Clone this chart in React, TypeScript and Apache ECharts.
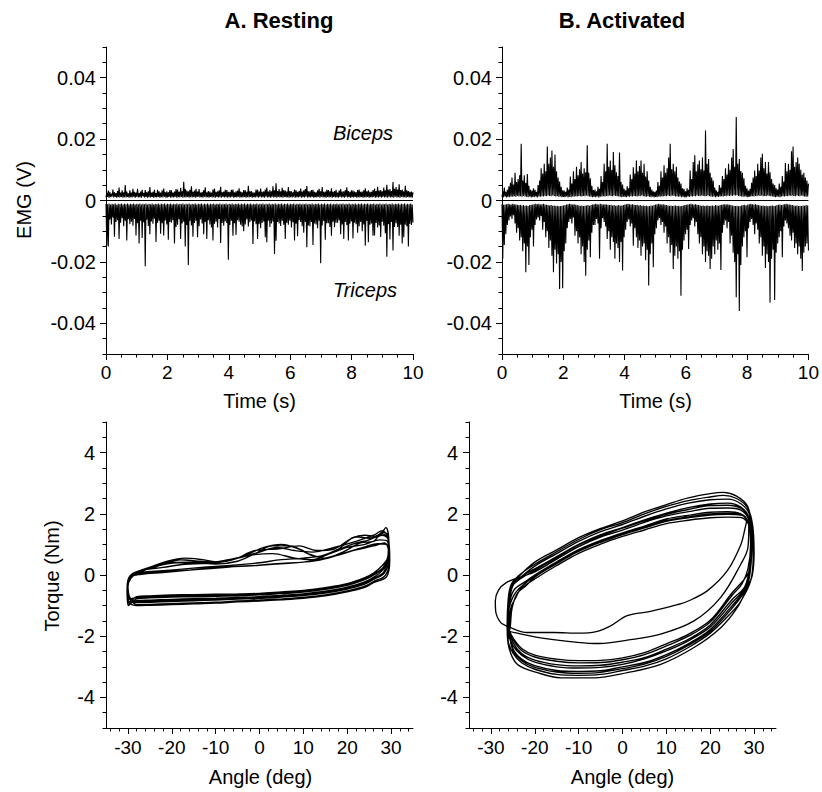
import React, { useEffect, useRef } from "react";
import * as echarts from "echarts";

const FONT = "'Liberation Sans', Arial, Helvetica, sans-serif";

// ---- EMG traces (values in units of 0.1 mV, sampled uniformly over 0–10 s) ----
const restingBiceps = [
  10,25,12,32,9,28,11,22,13,36,10,27,12,24,9,31,11,42,10,26,12,33,9,27,11,50,10,29,12,23,9,33,11,26,10,38,12,28,9,26,
  12,38,10,24,11,29,9,35,13,25,10,34,12,27,9,30,11,44,10,26,12,28,9,35,11,24,10,35,12,30,9,26,11,33,10,39,12,27,9,30,
  10,27,12,34,9,33,11,26,10,29,12,37,9,36,11,28,10,41,12,30,9,61,11,38,10,32,12,30,9,35,11,46,10,28,12,32,9,38,11,29,
  12,37,10,26,11,28,9,34,12,43,10,27,11,31,9,29,12,26,10,36,11,39,9,28,12,30,10,33,11,45,9,27,12,29,10,35,11,34,9,28,
  11,28,10,35,12,36,9,27,11,30,10,32,12,40,9,29,11,27,10,34,12,33,9,28,11,48,10,30,12,31,9,27,11,26,10,36,12,35,9,29,
  12,39,10,28,11,30,9,36,12,42,10,29,11,34,9,30,12,46,10,33,11,56,9,31,12,37,10,30,11,41,9,34,12,32,10,29,11,44,9,31,
  11,30,10,27,12,36,9,33,11,28,10,31,12,39,9,29,11,33,10,37,12,47,9,30,11,30,10,34,12,35,9,28,11,27,10,33,12,38,9,30,
  12,44,10,28,11,29,9,35,12,34,10,30,11,40,9,28,12,31,10,35,11,26,9,32,12,37,10,29,11,30,9,34,12,43,10,31,11,28,9,33,
  11,32,10,29,12,27,9,34,11,36,10,28,12,29,9,33,11,40,10,30,12,33,9,28,11,28,10,34,12,39,9,31,11,45,10,32,12,34,9,30,
  12,42,10,33,11,51,9,35,12,37,10,31,11,60,9,38,12,44,10,36,11,53,9,34,12,36,10,30,11,48,9,33,12,31,10,28,11,29,9,27,
];
const restingTriceps = [
  -11,-147,-12,-150,-10,-62,-13,-78,-11,-55,-12,-118,-10,-70,-14,-64,-11,-125,-12,-72,-10,-58,-13,-84,-11,-66,-12,-130,-10,-61,-13,-77,-11,-69,-12,-82,-10,-60,-13,-114,
  -11,-74,-12,-140,-10,-66,-13,-122,-11,-71,-12,-214,-10,-63,-13,-83,-11,-110,-12,-68,-10,-76,-13,-59,-11,-135,-12,-72,-10,-66,-13,-108,-11,-74,-12,-114,-10,-65,-13,-78,
  -11,-128,-12,-70,-10,-72,-13,-64,-11,-140,-12,-86,-10,-79,-13,-61,-11,-125,-12,-75,-10,-69,-13,-150,-11,-80,-12,-210,-10,-67,-13,-81,-11,-118,-12,-73,-10,-66,-13,-120,
  -11,-84,-12,-62,-10,-75,-13,-110,-11,-70,-12,-125,-10,-64,-13,-78,-11,-88,-12,-130,-10,-76,-13,-69,-11,-88,-12,-60,-10,-138,-13,-73,-11,-82,-12,-68,-10,-73,-13,-193,
  -11,-80,-12,-66,-10,-115,-13,-74,-11,-112,-12,-64,-10,-69,-13,-79,-11,-85,-12,-100,-10,-78,-13,-62,-11,-85,-12,-71,-10,-65,-13,-142,-11,-68,-12,-77,-10,-125,-13,-77,
  -11,-90,-12,-73,-10,-68,-13,-120,-11,-136,-12,-66,-10,-86,-13,-75,-11,-68,-12,-174,-10,-131,-13,-70,-11,-75,-12,-83,-10,-67,-13,-79,-11,-125,-12,-72,-10,-79,-13,-66,
  -11,-88,-12,-71,-10,-130,-13,-76,-11,-116,-12,-64,-10,-70,-13,-84,-11,-105,-12,-69,-10,-152,-13,-81,-11,-84,-12,-70,-10,-145,-13,-75,-11,-78,-12,-90,-10,-66,-13,-204,
  -11,-81,-12,-67,-10,-128,-13,-74,-11,-74,-12,-86,-10,-115,-13,-69,-11,-87,-12,-72,-10,-72,-13,-64,-11,-110,-12,-78,-10,-125,-13,-70,-11,-80,-12,-130,-10,-76,-13,-68,
  -11,-124,-12,-72,-10,-77,-13,-105,-11,-84,-12,-70,-10,-100,-13,-78,-11,-147,-12,-66,-10,-136,-13,-79,-11,-75,-12,-115,-10,-114,-13,-73,-11,-88,-12,-81,-10,-119,-13,-69,
  -11,-82,-12,-107,-10,-183,-13,-77,-11,-127,-12,-70,-10,-163,-13,-86,-11,-74,-12,-86,-10,-115,-13,-79,-11,-140,-12,-120,-10,-79,-13,-84,-11,-150,-12,-76,-10,-80,-13,-72,
];
const activatedBiceps = [
  12,30,11,42,13,28,10,35,12,46,11,58,13,75,12,52,14,90,12,60,15,70,13,82,14,185,12,65,15,82,13,58,12,86,11,48,13,35,10,32,
  12,40,11,35,13,28,10,50,13,65,12,105,14,88,13,120,15,95,14,176,16,120,15,140,14,163,16,110,15,150,13,95,14,75,12,62,13,45,11,33,
  12,32,11,28,13,42,10,36,12,78,11,55,13,95,12,70,14,110,13,82,15,102,14,125,13,88,15,105,14,92,16,180,14,90,13,72,12,48,11,34,
  12,36,11,30,13,45,10,38,12,80,13,60,14,120,13,95,15,185,14,110,16,130,15,100,14,158,16,115,15,92,14,80,13,156,12,60,11,52,12,38,
  12,33,11,46,13,40,12,85,14,70,13,108,15,88,14,130,13,95,15,112,14,130,16,90,14,120,13,78,12,95,14,65,12,45,11,36,13,30,10,28,
  12,32,11,60,13,48,12,95,14,75,13,115,15,90,14,105,16,140,15,185,14,102,16,120,15,95,13,110,14,75,12,62,13,55,11,40,12,38,10,30,
  11,40,13,35,12,98,14,70,13,125,15,147,14,95,16,118,15,130,14,102,16,140,15,98,14,228,15,120,16,135,14,90,13,75,12,65,13,42,11,33,
  13,28,12,50,13,42,14,80,13,70,15,105,14,85,16,120,15,100,16,140,15,168,17,110,16,272,17,120,15,135,14,96,13,90,12,72,13,48,12,40,
  11,32,12,38,13,58,14,75,13,98,15,80,14,120,16,98,15,140,16,152,14,105,15,125,14,88,16,125,15,92,14,70,13,55,12,50,11,40,12,36,
  12,55,11,45,13,80,14,62,13,122,15,95,14,120,16,100,15,160,16,176,15,110,14,125,16,140,15,120,14,100,16,85,14,90,13,75,12,65,13,55,
];
const activatedTriceps = [
  -12,-190,-14,-145,-13,-110,-12,-80,-11,-65,-12,-52,-13,-60,-11,-48,-12,-75,-13,-105,-14,-90,-15,-130,-14,-120,-16,-165,-15,-140,-17,-234,-16,-150,-18,-210,-15,-120,-14,-95,
  -13,-150,-12,-80,-11,-62,-12,-55,-11,-65,-13,-50,-12,-95,-11,-70,-13,-120,-14,-100,-15,-155,-16,-130,-15,-180,-17,-234,-16,-160,-18,-205,-17,-175,-19,-288,-18,-200,-17,-286,
  -16,-165,-15,-140,-13,-90,-12,-70,-11,-60,-12,-75,-13,-55,-12,-115,-14,-100,-15,-140,-16,-120,-17,-175,-16,-150,-18,-200,-17,-245,-16,-160,-15,-130,-17,-185,-15,-105,-13,-80,
  -12,-80,-11,-60,-12,-75,-13,-190,-11,-90,-12,-58,-13,-70,-12,-85,-13,-125,-14,-100,-15,-160,-14,-120,-16,-135,-15,-190,-17,-140,-16,-155,-15,-200,-17,-135,-16,-228,-15,-120,
  -13,-95,-12,-70,-11,-62,-12,-85,-13,-75,-12,-147,-14,-90,-15,-120,-14,-155,-16,-130,-15,-180,-17,-150,-16,-140,-18,-195,-17,-160,-19,-277,-18,-175,-16,-140,-17,-217,-15,-110,
  -13,-90,-12,-65,-11,-58,-12,-80,-13,-70,-12,-105,-14,-85,-15,-140,-16,-120,-17,-170,-16,-145,-18,-223,-17,-180,-16,-150,-18,-190,-17,-165,-19,-310,-18,-160,-16,-130,-15,-110,
  -14,-95,-13,-158,-12,-80,-11,-65,-12,-58,-13,-85,-12,-70,-14,-110,-15,-140,-16,-120,-17,-175,-16,-150,-18,-200,-17,-165,-16,-180,-18,-223,-17,-190,-16,-150,-18,-175,-15,-130,
  -16,-160,-17,-140,-15,-226,-14,-105,-13,-80,-12,-65,-13,-90,-12,-70,-14,-140,-15,-115,-16,-170,-17,-200,-18,-315,-17,-175,-19,-360,-18,-210,-16,-150,-15,-120,-14,-100,-16,-185,
  -13,-90,-12,-70,-11,-60,-12,-80,-13,-110,-12,-75,-14,-95,-15,-140,-16,-120,-17,-180,-16,-150,-18,-220,-17,-175,-19,-200,-18,-332,-17,-190,-16,-160,-18,-324,-17,-170,-15,-140,
  -14,-120,-13,-100,-15,-185,-13,-85,-12,-65,-11,-75,-12,-90,-13,-115,-14,-130,-15,-105,-16,-155,-17,-140,-16,-175,-18,-150,-17,-190,-18,-230,-16,-170,-17,-150,-15,-140,-16,-163,
];

// ---- Torque–angle loops: [angle (deg), torque (Nm)] ----
const restingLoop: [number, number][] = [
  [-29.8,-0.82],[-30.1,-0.4],[-29.4,-0.05],[-27,0.12],[-22,0.35],[-18,0.5],[-14,0.45],[-10,0.42],[-5,0.55],[0,0.75],[4,0.9],[8,0.8],[12,0.75],[17,0.9],[22,1.1],[26,1.3],[28,1.45],[29.3,1.2],[29.6,0.6],[28,0.15],[26,-0.075],[24,-0.225],[20,-0.4],[15,-0.53],[10,-0.615],[5,-0.665],[0,-0.71],[-5,-0.735],[-10,-0.76],[-15,-0.775],[-20,-0.795],[-25,-0.82],[-28,-0.84],
  [-29.9,-0.95],[-30.2,-0.45],[-29.5,-0.02],[-27,0.08],[-22,0.14],[-17,0.2],[-12,0.26],[-6,0.32],[0,0.4],[5,0.5],[10,0.55],[15,0.65],[20,0.9],[24,1.0],[27.5,1.15],[29.2,1.1],[29.6,0.5],[28.7,-0.01],[26,-0.215],[24,-0.365],[20,-0.52],[15,-0.65],[10,-0.73],[5,-0.78],[0,-0.82],[-5,-0.85],[-10,-0.89],[-15,-0.91],[-20,-0.935],[-25,-0.96],[-28,-0.97],
  [-29.6,-0.72],[-30,-0.3],[-29.2,0.02],[-26,0.2],[-21,0.45],[-17,0.55],[-13,0.5],[-9,0.42],[-4,0.6],[1,0.9],[5,1.0],[9,0.85],[13,0.6],[18,0.85],[22,1.25],[25,1.2],[28,1.35],[29.4,1.1],[29.3,0.6],[28,0.31],[26,0.065],[24,-0.085],[20,-0.28],[15,-0.41],[10,-0.5],[5,-0.55],[0,-0.6],[-5,-0.62],[-10,-0.63],[-15,-0.64],[-20,-0.655],[-25,-0.68],[-28,-0.71],
  [-29.8,-0.9],[-30.2,-0.45],[-29.5,-0.08],[-27,0.02],[-22,0.08],[-16,0.16],[-10,0.24],[-5,0.28],[0,0.32],[5,0.38],[10,0.42],[15,0.55],[20,0.75],[24,0.92],[27,1.02],[29,1.0],[29.5,0.6],[28.5,0.07],[26,-0.145],[24,-0.295],[20,-0.46],[15,-0.59],[10,-0.67],[5,-0.72],[0,-0.77],[-5,-0.79],[-10,-0.82],[-15,-0.84],[-20,-0.865],[-25,-0.89],[-28,-0.9],
  [-29.6,-0.78],[-30,-0.4],[-29.3,-0.1],[-27.5,0.08],[-23,0.3],[-19,0.4],[-15,0.4],[-10,0.36],[-5,0.45],[-1,0.7],[3,0.95],[7,0.95],[11,0.7],[15,0.55],[19,0.75],[23,1.05],[26,1.1],[28,1.4],[29.3,1.3],[29.6,0.7],[28.2,0.23],[26,-0.005],[24,-0.155],[20,-0.34],[15,-0.47],[10,-0.56],[5,-0.61],[0,-0.65],[-5,-0.68],[-10,-0.7],[-15,-0.71],[-20,-0.725],[-25,-0.75],[-28,-0.78],
  [-29.9,-1.0],[-30.2,-0.5],[-29.4,-0.02],[-27,0.15],[-22,0.25],[-17,0.35],[-12,0.38],[-7,0.5],[-2,0.65],[3,0.7],[8,0.55],[12,0.5],[16,0.7],[21,1.0],[25,1.15],[28,1.3],[29.4,1.15],[29.7,0.5],[29,-0.05],[26,-0.25],[24,-0.4],[20,-0.55],[15,-0.68],[10,-0.76],[5,-0.81],[0,-0.85],[-5,-0.88],[-10,-0.92],[-15,-0.94],[-20,-0.97],[-25,-0.99],[-28,-1.0],
  [-29.8,-0.88],[-30,-0.35],[-29.3,0.0],[-26.5,0.18],[-21,0.4],[-16,0.42],[-11,0.4],[-6,0.5],[-1,0.8],[4,0.85],[9,0.95],[13,0.8],[17,0.85],[21,1.2],[24,1.3],[27,1.25],[28.8,1.55],[29.5,1.0],[28.4,0.11],[26,-0.11],[24,-0.26],[20,-0.43],[15,-0.56],[10,-0.64],[5,-0.69],[0,-0.74],[-5,-0.76],[-10,-0.79],[-15,-0.81],[-20,-0.83],[-25,-0.85],[-28,-0.87],
  [-29.7,-0.75],[-30,-0.35],[-29.3,-0.02],[-27,0.04],[-22,0.1],[-17,0.15],[-12,0.2],[-7,0.26],[-2,0.3],[3,0.35],[8,0.4],[13,0.47],[18,0.65],[22,0.82],[26,0.95],[28.5,1.05],[29.4,0.8],[28.3,0.27],[26,0.03],[24,-0.12],[20,-0.31],[15,-0.44],[10,-0.53],[5,-0.58],[0,-0.62],[-5,-0.65],[-10,-0.66],[-15,-0.68],[-20,-0.69],[-25,-0.72],[-28,-0.74],[-29.7,-0.78],
];

const activatedLoop: [number, number][] = [
  [-26.2,-1.6],[-26.0,-1.0],[-25.0,-0.3],[-22.5,0.0],[-20,0.2],[-15,0.6],[-10,1.0],[-5,1.32],[0,1.55],[5,1.8],[10,2.02],[15,2.2],[20,2.32],[24,2.35],[27,2.22],[28.8,1.9],[29.4,1.2],[29.1,0.3],[28.0,-0.4],[25,-0.9],[20,-1.7],[15,-2.15],[10,-2.48],[5,-2.74],[0,-2.92],[-5,-3.02],[-10,-3.04],[-15,-3.0],[-20,-2.85],[-23,-2.62],[-25,-2.3],
  [-26.3,-1.75],[-26.2,-1.1],[-25.6,-0.4],[-24,-0.1],[-20,0.42],[-15,0.82],[-10,1.22],[-5,1.52],[0,1.77],[5,2.06],[10,2.3],[15,2.52],[20,2.66],[23,2.7],[26,2.58],[28.5,2.25],[29.6,1.5],[29.8,0.6],[29.2,-0.2],[27,-0.85],[25,-1.2],[20,-1.9],[15,-2.37],[10,-2.74],[5,-2.98],[0,-3.12],[-5,-3.25],[-10,-3.28],[-15,-3.25],[-20,-3.08],[-23,-2.87],[-25,-2.55],[-26.1,-2.1],
  [-25.6,-1.7],[-25.2,-1.1],[-24,-0.6],[-22,-0.35],[-20,-0.07],[-15,0.37],[-10,0.77],[-5,1.07],[0,1.32],[5,1.54],[10,1.75],[15,1.87],[20,1.96],[24,1.98],[27,1.96],[28.8,1.7],[29.2,1.0],[28.6,0.2],[27.2,-0.3],[25,-0.66],[20,-1.54],[15,-2.0],[10,-2.32],[5,-2.6],[0,-2.77],[-5,-2.86],[-10,-2.87],[-15,-2.82],[-20,-2.68],[-23,-2.47],[-25,-2.1],
  [-26.1,-1.65],[-25.9,-1.0],[-25.2,-0.35],[-23,-0.05],[-20,0.29],[-15,0.7],[-10,1.1],[-5,1.42],[0,1.65],[5,1.92],[10,2.16],[15,2.35],[20,2.46],[24,2.48],[27,2.33],[28.9,2.0],[29.5,1.3],[29.3,0.4],[28.4,-0.35],[25,-1.0],[20,-1.78],[15,-2.25],[10,-2.6],[5,-2.86],[0,-3.0],[-5,-3.13],[-10,-3.15],[-15,-3.12],[-20,-2.96],[-23,-2.75],[-25,-2.4],
  [-26.3,-1.7],[-27.8,-1.55],[-28.9,-1.2],[-29.0,-0.85],[-28.3,-0.5],[-26.5,-0.25],[-23,-0.05],[-20,0.1],[-15,0.52],[-10,0.93],[-5,1.24],[0,1.47],[5,1.72],[10,1.93],[15,2.07],[20,2.18],[24,2.19],[27,2.12],[28.8,1.8],[29.3,1.1],[29.0,0.25],[27.8,-0.4],[25,-0.8],[20,-1.63],[15,-2.1],[10,-2.42],[5,-2.7],[0,-2.85],[-5,-2.95],[-10,-2.97],[-15,-2.93],[-20,-2.78],[-23,-2.57],[-25,-2.2],
  [-26.0,-1.7],[-25.8,-1.0],[-24.8,-0.5],[-22,-0.2],[-20,0.0],[-15,0.43],[-10,0.83],[-5,1.13],[0,1.38],[5,1.6],[10,1.83],[15,1.95],[20,2.05],[24,2.07],[27,2.0],[28.3,1.8],[27.9,1.5],[27,1.0],[23.9,0.14],[19.4,-0.51],[15,-0.85],[12.5,-0.97],[6.4,-1.19],[1.1,-1.33],[-2.7,-1.66],[-6,-1.85],[-10,-1.9],[-15.6,-1.88],[-21.7,-1.88],[-25,-1.75],
  [-26.2,-1.6],[-25.9,-1.1],[-24.5,-0.6],[-22,-0.25],[-20,-0.05],[-15,0.4],[-10,0.8],[-5,1.1],[0,1.35],[5,1.57],[10,1.78],[15,1.9],[20,2.0],[24,2.02],[27,1.98],[28.8,1.6],[28.6,0.9],[27,0.36],[22.4,-0.73],[16.3,-1.5],[8.7,-1.93],[1.1,-2.13],[-5.3,-2.24],[-10.3,-2.2],[-17.9,-2.07],[-24,-1.9],
  [-26.3,-1.75],[-26.2,-1.1],[-25.5,-0.35],[-23.5,0.0],[-20,0.35],[-15,0.76],[-10,1.16],[-5,1.48],[0,1.71],[5,2.0],[10,2.24],[15,2.43],[20,2.55],[23,2.6],[26,2.5],[28.5,2.2],[29.7,1.6],[30,0.7],[29.6,0.0],[28.5,-0.4],[26.2,-1.06],[22.4,-1.72],[16.3,-2.37],[8.7,-2.92],[1.1,-3.19],[-6.5,-3.36],[-14.1,-3.36],[-19.4,-3.19],[-24,-2.92],[-25.9,-2.37],[-26.3,-1.72],
  [-26.2,-1.7],[-25.9,-1.0],[-25,-0.35],[-23,-0.1],[-20,0.15],[-15,0.57],[-10,0.98],[-5,1.28],[0,1.53],[5,1.77],[10,1.98],[15,2.14],[20,2.27],[24,2.28],[27,2.18],[28.9,1.85],[29.5,1.1],[29.2,0.2],[28.2,-0.45],[25,-1.08],[20,-1.84],[15,-2.3],[10,-2.66],[5,-2.91],[0,-3.06],[-5,-3.18],[-10,-3.21],[-15,-3.17],[-20,-3.02],[-23,-2.8],[-25,-2.46],
  [-25.8,-1.75],[-25.5,-1.1],[-24.2,-0.7],[-23.2,-0.45],[-20,-0.13],[-15,0.31],[-10,0.71],[-5,1.01],[0,1.26],[5,1.47],[10,1.68],[15,1.79],[20,1.87],[24,1.89],[27,1.88],[28.9,1.6],[29.3,0.9],[28.8,0.1],[27.4,-0.2],[25,-0.58],[20,-1.48],[15,-1.94],[10,-2.25],[5,-2.54],[0,-2.71],[-5,-2.79],[-10,-2.8],[-15,-2.75],[-20,-2.62],[-23,-2.4],[-25,-2.05],[-26,-1.75],
];

// ---- Tick labels ----
const timeTicks = [0, 2, 4, 6, 8, 10];
const emgTicks = [-0.04, -0.02, 0, 0.02, 0.04];
const angleTicks = [-30, -20, -10, 0, 10, 20, 30];
const torqueTicks = [-4, -2, 0, 2, 4];

function steps(min: number, max: number, step: number, exclude: number[]) {
  const out: number[] = [];
  const n = Math.round((max - min) / step);
  for (let i = 0; i <= n; i++) {
    const v = +(min + i * step).toFixed(6);
    if (!exclude.some((e) => Math.abs(e - v) < 1e-9)) out.push(v);
  }
  return out;
}

const UNIT = 0.0001; // 0.1 mV in volts
function emgData(values: number[]) {
  return values.map((v, i) => [(i * 10) / (values.length - 1), v * UNIT]);
}

function axisPair(
  kind: "x" | "y",
  gridIndex: number,
  min: number,
  max: number,
  labels: number[],
  minors: number[],
  fontSize: number,
  margin: number,
  fmt: (v: number) => string
) {
  const position = kind === "x" ? "bottom" : "left";
  const main = {
    type: "value",
    gridIndex,
    min,
    max,
    position,
    axisLine: { show: true, onZero: false, lineStyle: { color: "#000", width: 1 } },
    axisTick: { show: true, inside: false, length: 6, customValues: labels, lineStyle: { color: "#000", width: 1 } },
    axisLabel: { show: true, customValues: labels, color: "#000", fontSize, fontFamily: FONT, margin, formatter: fmt },
    splitLine: { show: false },
  };
  const minor = {
    type: "value",
    gridIndex,
    min,
    max,
    position,
    axisLine: { show: false, onZero: false },
    axisTick: { show: true, inside: false, length: 3.5, customValues: minors, lineStyle: { color: "#000", width: 1 } },
    axisLabel: { show: false },
    splitLine: { show: false },
  };
  return [main, minor];
}

const fmtEmg = (v: number) => (v === 0 ? "0" : v.toFixed(2));
const fmtInt = (v: number) => String(v);

function text(x: number, y: number, t: string, size: number, extra: any = {}) {
  return {
    type: "text",
    x,
    y,
    rotation: extra.rotation || 0,
    style: {
      text: t,
      fontSize: size,
      fontFamily: FONT,
      fontWeight: extra.bold ? "bold" : "normal",
      fontStyle: extra.italic ? "italic" : "normal",
      fill: "#000",
      align: "center",
      verticalAlign: "middle",
    },
  };
}

export default function App() {
  const ref = useRef<HTMLDivElement>(null);
  useEffect(() => {
    if (!ref.current) return;
    const chart = echarts.init(ref.current, undefined, { renderer: "svg" });

    const timeMinor = steps(0, 10, 0.5, timeTicks);
    const emgMinor = steps(-0.05, 0.05, 0.005, emgTicks);
    const angleMinor = steps(-34, 34, 2, angleTicks);
    const torqueMinor = steps(-5, 5, 0.5, torqueTicks);

    const xAxis = [
      ...axisPair("x", 0, 0, 10, timeTicks, timeMinor, 19, 9, fmtInt),
      ...axisPair("x", 1, 0, 10, timeTicks, timeMinor, 19, 9, fmtInt),
      ...axisPair("x", 2, -35, 35, angleTicks, angleMinor, 19, 10, fmtInt),
      ...axisPair("x", 3, -35, 35, angleTicks, angleMinor, 19, 10, fmtInt),
    ];
    const yAxis = [
      ...axisPair("y", 0, -0.05, 0.05, emgTicks, emgMinor, 20, 10, fmtEmg),
      ...axisPair("y", 1, -0.05, 0.05, emgTicks, emgMinor, 20, 10, fmtEmg),
      ...axisPair("y", 2, -5, 5, torqueTicks, torqueMinor, 20, 11, fmtInt),
      ...axisPair("y", 3, -5, 5, torqueTicks, torqueMinor, 20, 11, fmtInt),
    ];

    const lineBase = {
      type: "line",
      showSymbol: false,
      symbol: "none",
      silent: true,
      clip: true,
      lineStyle: { color: "#000", width: 1 },
    };
    const emgBase = { ...lineBase, lineStyle: { color: "#000", width: 1.1, join: "bevel" } };
    const loopBase = { ...lineBase, smooth: 0.35, lineStyle: { color: "#000", width: 1.35 } };
    const zeroLine = {
      silent: true,
      symbol: "none",
      label: { show: false },
      lineStyle: { color: "#000", width: 1, type: "solid" },
      data: [{ yAxis: 0 }],
    };

    const series = [
      { ...emgBase, xAxisIndex: 0, yAxisIndex: 0, data: emgData(restingBiceps), markLine: zeroLine },
      { ...emgBase, xAxisIndex: 0, yAxisIndex: 0, data: emgData(restingTriceps) },
      { ...emgBase, xAxisIndex: 2, yAxisIndex: 2, data: emgData(activatedBiceps), markLine: zeroLine },
      { ...emgBase, xAxisIndex: 2, yAxisIndex: 2, data: emgData(activatedTriceps) },
      { ...loopBase, xAxisIndex: 4, yAxisIndex: 4, data: restingLoop },
      { ...loopBase, xAxisIndex: 6, yAxisIndex: 6, data: activatedLoop },
    ];

    chart.setOption({
      animation: false,
      backgroundColor: "#fff",
      grid: [
        { left: 106, top: 47, width: 307, height: 307 },
        { left: 502, top: 47, width: 307, height: 307 },
        { left: 106, top: 422, width: 307, height: 306 },
        { left: 469, top: 422, width: 307, height: 306 },
      ],
      xAxis,
      yAxis,
      series,
      graphic: [
        text(279, 20, "A. Resting", 22, { bold: true }),
        text(622, 20, "B. Activated", 22, { bold: true }),
        text(24, 200, "EMG (V)", 20, { rotation: Math.PI / 2 }),
        text(52, 576, "Torque (Nm)", 20, { rotation: Math.PI / 2 }),
        text(259.5, 401, "Time (s)", 20),
        text(655.5, 401, "Time (s)", 20),
        text(260.5, 777, "Angle (deg)", 20),
        text(622.5, 777, "Angle (deg)", 20),
        text(363, 133, "Biceps", 20, { italic: true }),
        text(365, 290, "Triceps", 20, { italic: true }),
      ],
    });
    return () => chart.dispose();
  }, []);
  return (
    <div
      ref={ref}
      style={{ position: "fixed", left: 0, top: 0, width: 822, height: 792, background: "#fff" }}
    />
  );
}
